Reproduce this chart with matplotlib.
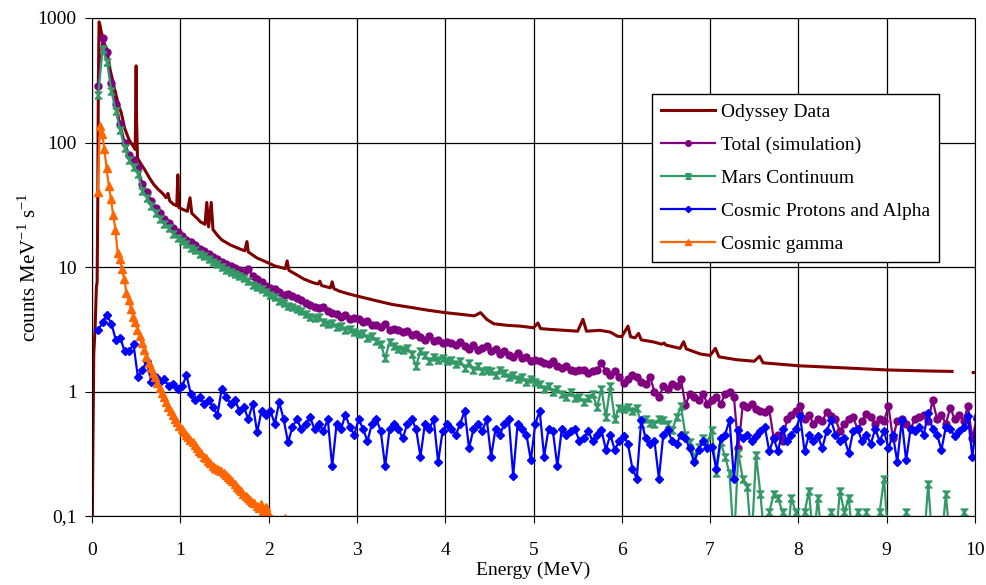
import numpy as np
import matplotlib
matplotlib.use('Agg')
import matplotlib.pyplot as plt

plt.rcParams['font.family'] = ['Liberation Serif', 'DejaVu Serif']
plt.rcParams['mathtext.fontset'] = 'custom'
plt.rcParams['mathtext.rm'] = 'Liberation Serif'

# simulation grid (MeV)
energy = np.round(np.arange(0.07, 10.05, 0.05), 2)
gammaEnergy = np.round(np.arange(0.065, 2.2, 0.025), 3)

odysseyEnergy = [0.0, 0.012, 0.02, 0.035, 0.05, 0.058, 0.065, 0.072, 0.08, 0.09, 0.1, 0.12, 0.14,
                 0.17, 0.2, 0.25, 0.3, 0.33, 0.37, 0.42, 0.46, 0.49, 0.495, 0.5, 0.505, 0.515,
                 0.55, 0.6, 0.65, 0.7, 0.75, 0.8, 0.84, 0.86, 0.88, 0.92, 0.96, 0.972, 0.985,
                 1.03, 1.08, 1.11, 1.13, 1.18, 1.23, 1.28, 1.30, 1.32, 1.35, 1.37, 1.42, 1.47,
                 1.57, 1.67, 1.73, 1.755, 1.77, 1.87, 1.97, 2.07, 2.19, 2.21, 2.23, 2.3, 2.4,
                 2.5, 2.56, 2.58, 2.6, 2.7, 2.72, 2.74, 2.8, 2.9, 3.0, 3.2, 3.4, 3.6, 3.8, 4.0,
                 4.2, 4.33, 4.4, 4.47, 4.55, 4.7, 4.85, 5.0, 5.05, 5.08, 5.2, 5.35, 5.5, 5.56,
                 5.6, 5.75, 5.87, 5.95, 6.0, 6.07, 6.1, 6.15, 6.19, 6.22, 6.36, 6.45, 6.48, 6.5,
                 6.66, 6.7, 6.73, 6.89, 7.0, 7.06, 7.1, 7.3, 7.5, 7.56, 7.6, 8.0, 8.5, 9.0, 9.5,
                 9.74, 9.75, 9.98, 10.0]
odysseyCounts = [0.05, 0.5, 2, 3.2, 7, 7.5, 30, 300, 930, 880, 800, 700, 620,
                 560, 400, 280, 200, 175, 130, 105, 95, 88, 200, 413, 150, 75,
                 68, 60, 52, 46, 42, 39, 36, 39, 34, 32, 31, 55, 30,
                 29, 28, 36, 27, 25, 23, 22, 33, 21, 33, 20, 18, 16.5,
                 15, 14, 13.5, 16, 13.2, 11.8, 11, 10.2, 9.7, 11.2, 9.4, 8.8, 8.0,
                 7.5, 7.3, 7.7, 7.1, 6.8, 7.6, 6.7, 6.4, 6.1, 5.85, 5.4, 5.0, 4.75, 4.5, 4.3,
                 4.15, 4.05, 4.3, 3.8, 3.5, 3.4, 3.35, 3.25, 3.55, 3.2, 3.15, 3.1, 3.05, 3.8,
                 3.05, 3.1, 3.0, 2.78, 2.76, 3.35, 2.75, 2.7, 2.93, 2.6, 2.5, 2.4, 2.45, 2.36,
                 2.22, 2.51, 2.2, 2.0, 1.95, 2.22, 1.9, 1.8, 1.75, 1.92, 1.7, 1.61, 1.55, 1.49, 1.46,
                 1.45, np.nan, 1.42, 1.42]

totalSim = [283, 690, 535, 300, 205, 140, 100, 80, 72, 64,
            46, 40, 34, 30, 27, 24.5, 22.5, 20.5, 19, 17.8,
            16.6, 15.8, 15.0, 14.0, 13.4, 12.8, 12.0, 11.5, 11.0, 10.5,
            10.1, 9.8, 9.4, 9.2, 9.6, 8.5, 8.0, 7.6, 7.1, 6.8,
            6.6, 6.3, 6.0, 6.1, 5.8, 5.6, 5.4, 5.1, 4.95, 4.8,
            4.7, 4.8, 4.4, 4.3, 4.2, 4.0, 4.1, 3.85, 3.9, 3.8,
            3.6, 3.65, 3.45, 3.4, 3.3, 3.5, 3.1, 3.2, 3.1, 3.0,
            3.05, 2.85, 2.9, 2.75, 2.6, 2.8, 2.55, 2.6, 2.45, 2.5,
            2.45, 2.35, 2.5, 2.3, 2.2, 2.35, 2.15, 2.25, 2.3, 2.1,
            2.2, 2.0, 2.1, 1.95, 1.9, 2.05, 1.85, 1.9, 1.75, 1.8,
            1.75, 1.7, 1.65, 1.75, 1.6, 1.55, 1.6, 1.5, 1.45, 1.5,
            1.5, 1.4, 1.45, 1.5, 1.7, 1.45, 1.35, 1.45, 1.3, 1.17,
            1.25, 1.35, 1.3, 1.2, 1.15, 1.3, 1.0, 0.9, 1.1, 1.05,
            1.15, 1.1, 1.25, 0.78, 0.95, 0.9, 0.85, 0.95, 0.8, 0.85,
            0.9, 0.8, 0.95, 1.0, 0.9, 0.35, 0.78, 0.75, 0.8, 0.72,
            0.7, 0.68, 0.72, 0.42, 0.45, 0.4, 0.6, 0.65, 0.7, 0.76,
            0.6, 0.65, 0.55, 0.6, 0.58, 0.68, 0.63, 0.6, 0.48, 0.55,
            0.6, 0.62, 0.5, 0.58, 0.66, 0.62, 0.55, 0.6, 0.58, 0.76,
            0.42, 0.58, 0.6, 0.55, 0.5, 0.6, 0.62, 0.65, 0.58, 0.85,
            0.6, 0.65, 0.55, 0.74, 0.6, 0.65, 0.58, 0.76, 0.42, 0.62]

marsContinuum = [240, 565, 440, 260, 178, 125, 90, 72, 63, 56,
                 41, 36, 31, 27, 24.5, 22, 20.5, 18.5, 17.2, 16.2,
                 15.2, 14.3, 13.6, 12.8, 12.2, 11.6, 10.9, 10.5, 10.0, 9.5,
                 9.1, 8.8, 8.4, 8.2, 7.7, 7.2, 6.9, 6.6, 6.3, 6.0,
                 5.7, 5.3, 5.1, 4.9, 4.8, 4.6, 4.4, 4.2, 4.0, 3.9,
                 3.95, 3.6, 3.5, 3.55, 3.3, 3.35, 3.1, 3.2, 3.0, 2.9,
                 2.95, 2.7, 2.8, 2.55, 2.4, 1.85, 2.5, 2.3, 2.2, 2.15,
                 2.25, 2.0, 1.6, 2.1, 1.95, 1.75, 1.9, 1.8, 1.85, 1.75,
                 1.8, 1.65, 1.75, 1.55, 1.7, 1.5, 1.6, 1.45, 1.5, 1.45,
                 1.35, 1.5, 1.4, 1.3, 1.35, 1.25, 1.3, 1.2, 1.25, 1.2,
                 1.15, 1.05, 1.1, 1.0, 1.05, 0.95, 0.9, 1.0, 0.88, 0.9,
                 0.82, 0.88, 0.95, 0.75, 1.05, 0.62, 1.1, 0.6, 0.74, 0.72,
                 0.75, 0.7, 0.74, 0.55, 0.6, 0.56, 0.55, 0.6, 0.59, 0.55,
                 0.49, 0.62, 0.76, 0.45, 0.39, 0.3, 0.36, 0.42, 0.39, 0.49,
                 0.22, 0.39, 0.3, 0.22, 0.06, 0.32, 0.2, 0.17, 0.06, 0.31,
                 0.15, 0.06, 0.107, 0.15, 0.14, 0.107, 0.06, 0.14, 0.107, 0.06,
                 0.107, 0.16, 0.06, 0.14, 0.06, 0.06, 0.107, 0.06, 0.16, 0.107,
                 0.14, 0.06, 0.107, 0.06, 0.107, 0.06, 0.06, 0.107, 0.2, 0.06,
                 0.06, 0.06, 0.06, 0.107, 0.06, 0.06, 0.06, 0.06, 0.18, 0.06,
                 0.06, 0.06, 0.15, 0.06, 0.06, 0.06, 0.107, 0.06, 0.06, 0.06]

protonsAlpha = [3.1, 3.6, 4.1, 3.5, 2.6, 2.7, 2.1, 2.1, 2.4, 1.3,
                1.5, 1.75, 1.2, 1.3, 1.2, 1.25, 1.1, 1.15, 1.05, 1.1,
                1.35, 0.95, 0.85, 0.9, 0.8, 0.85, 0.75, 0.65, 1.05, 0.9,
                0.8, 0.85, 0.7, 0.75, 0.6, 0.8, 0.47, 0.7, 0.65, 0.7,
                0.55, 0.82, 0.6, 0.39, 0.52, 0.6, 0.5, 0.55, 0.62, 0.5,
                0.55, 0.48, 0.6, 0.25, 0.55, 0.5, 0.65, 0.52, 0.45, 0.6,
                0.5, 0.4, 0.55, 0.6, 0.48, 0.25, 0.5, 0.55, 0.5, 0.42,
                0.55, 0.6, 0.5, 0.3, 0.55, 0.5, 0.6, 0.27, 0.48, 0.55,
                0.5, 0.45, 0.55, 0.7, 0.35, 0.5, 0.55, 0.48, 0.6, 0.3,
                0.5, 0.45, 0.55, 0.6, 0.21, 0.55, 0.5, 0.45, 0.28, 0.55,
                0.7, 0.3, 0.5, 0.48, 0.25, 0.5, 0.45, 0.48, 0.5, 0.4,
                0.42, 0.48, 0.4, 0.45, 0.49, 0.34, 0.45, 0.34, 0.4, 0.44,
                0.38, 0.24, 0.2, 0.59, 0.42, 0.38, 0.4, 0.2, 0.45, 0.49,
                0.4, 0.38, 0.45, 0.42, 0.35, 0.27, 0.34, 0.4, 0.35, 0.36,
                0.24, 0.42, 0.45, 0.59, 0.2, 0.49, 0.42, 0.45, 0.4, 0.44,
                0.48, 0.52, 0.33, 0.42, 0.33, 0.5, 0.4, 0.45, 0.5, 0.63,
                0.33, 0.45, 0.4, 0.44, 0.35, 0.48, 0.59, 0.45, 0.4, 0.42,
                0.32, 0.48, 0.5, 0.4, 0.45, 0.38, 0.5, 0.4, 0.48, 0.35,
                0.45, 0.27, 0.59, 0.28, 0.5, 0.48, 0.52, 0.45, 0.67, 0.5,
                0.45, 0.34, 0.52, 0.5, 0.44, 0.48, 0.52, 0.63, 0.3, 0.6]

cosmicGamma = [40, 136, 118, 88, 62, 45, 35, 26,
               20, 13, 11.5, 9.6, 8.0, 6.2, 5.4, 4.6,
               4.0, 3.6, 3.1, 2.8, 2.45, 2.15, 1.9, 1.7,
               1.55, 1.42, 1.3, 1.17, 1.07, 0.98, 0.9, 0.82,
               0.75, 0.7, 0.65, 0.6, 0.57, 0.53, 0.5, 0.47,
               0.45, 0.43, 0.41, 0.39, 0.37, 0.35, 0.33, 0.32,
               0.3, 0.29, 0.275, 0.265, 0.25, 0.245, 0.24, 0.235,
               0.23, 0.22, 0.215, 0.205, 0.2, 0.19, 0.18, 0.17,
               0.165, 0.16, 0.15, 0.145, 0.14, 0.135, 0.13, 0.127,
               0.12, 0.115, 0.125, 0.11, 0.118, 0.105, 0.098, 0.094,
               0.09, 0.085, 0.085, 0.08, 0.09, 0.097]

yTicks = [0.1, 1, 10, 100, 1000]
yTickLabels = ['0,1', '1', '10', '100', '1000']

# hourglass marker like the excel one
hourglass = [(-1, -1), (1, -1), (-1, 1), (1, 1), (-1, -1)]

fig = plt.figure(figsize=(9.86, 5.85), dpi=100)
ax = fig.add_axes([92 / 986, 1 - 516 / 585, 883 / 986, 498 / 585])

ax.plot(odysseyEnergy, odysseyCounts, color='#800000', lw=2.2, label='Odyssey Data')
ax.plot(energy, totalSim, color='#800080', lw=1.6, marker='o', ms=5, label='Total (simulation)')
ax.plot(energy, marsContinuum, color='#339966', lw=1.6, marker=hourglass, ms=5, label='Mars Continuum')
ax.plot(energy, protonsAlpha, color='#0000FF', lw=1.6, marker='D', ms=4, label='Cosmic Protons and Alpha')
ax.plot(gammaEnergy, cosmicGamma, color='#FF6600', lw=1.6, marker='^', ms=5.5, label='Cosmic gamma')

ax.set_yscale('log')
ax.set_xlim(0, 10)
ax.set_ylim(0.1, 1000)
ax.set_xticks(range(0, 11))
ax.set_yticks(yTicks)
ax.set_yticklabels(yTickLabels)
ax.minorticks_off()
ax.grid(True, which='major', color='black', lw=0.9)
for s in ax.spines.values():
    s.set_color('black')
ax.tick_params(axis='both', labelsize=14, colors='black', length=5)
ax.tick_params(axis='x', pad=14)
ax.tick_params(axis='y', pad=6)

ax.set_xlabel('Energy (MeV)', fontsize=14, labelpad=2)
ax.set_ylabel(r'counts MeV$^{\mathregular{-1}}$ s$^{\mathregular{-1}}$', fontsize=15)
ax.yaxis.set_label_coords(-0.058, 0.5)

leg = ax.legend(loc='upper left', bbox_to_anchor=(0.634, 0.847), borderaxespad=0,
                fontsize=14, frameon=True, fancybox=False, framealpha=1,
                edgecolor='black', handlelength=2.8, handletextpad=0.3,
                labelspacing=0.8, borderpad=0.45, markerscale=0.8)
leg.get_frame().set_linewidth(1.0)

fig.savefig('out.png', dpi=100)
